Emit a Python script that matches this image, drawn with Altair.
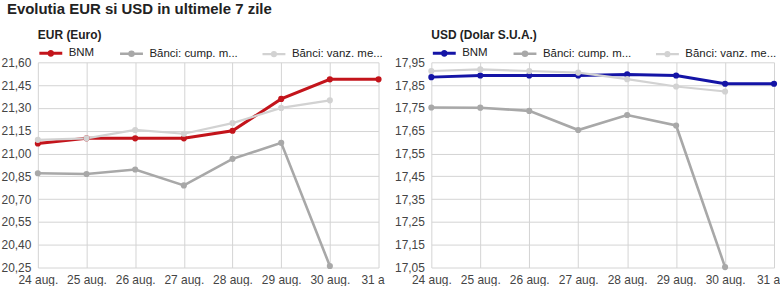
import altair as alt
import pandas as pd

dates = ["24 aug.", "25 aug.", "26 aug.", "27 aug.", "28 aug.", "29 aug.", "30 aug.", "31 aug."]
series_names = ["BNM", "Bănci: cump. m...", "Bănci: vanz. me..."]

eur_bnm = [21.066, 21.10, 21.10, 21.10, 21.15, 21.359, 21.488, 21.488]
eur_buy = [20.87, 20.865, 20.895, 20.79, 20.965, 21.07, 20.26, None]
eur_sell = [21.09, 21.10, 21.155, 21.13, 21.20, 21.30, 21.35, None]

usd_bnm = [17.885, 17.892, 17.892, 17.892, 17.897, 17.892, 17.856, 17.856]
usd_buy = [17.752, 17.751, 17.737, 17.653, 17.719, 17.673, 17.052, None]
usd_sell = [17.912, 17.919, 17.912, 17.905, 17.876, 17.844, 17.822, None]

eur_ticks = [20.25, 20.40, 20.55, 20.70, 20.85, 21.00, 21.15, 21.30, 21.45, 21.60]
usd_ticks = [17.05, 17.15, 17.25, 17.35, 17.45, 17.55, 17.65, 17.75, 17.85, 17.95]

eur_colors = ["#c3141b", "#a8a8a8", "#d2d2d2"]
usd_colors = ["#1414a6", "#a8a8a8", "#d2d2d2"]

FONT = "Liberation Sans"
LEGEND_SYMBOL = "M-1,0L1,0M0.17,0A0.17,0.17,0,1,1,-0.17,0A0.17,0.17,0,1,1,0.17,0Z"


def make_frame(bnm, buy, sell):
    rows = []
    for name, vals in zip(series_names, [bnm, buy, sell]):
        for d, v in zip(dates, vals):
            if v is not None:
                rows.append({"date": d, "series": name, "value": v})
    return pd.DataFrame(rows)


def panel(df, title, colors, domain, ticks, width):
    x = alt.X(
        "date:O",
        sort=dates,
        scale=alt.Scale(type="point", padding=0),
        axis=alt.Axis(
            title=None, grid=True, gridColor="#d4d4d4", domain=False, ticks=False,
            labelAngle=0, labelFontSize=12, labelFont=FONT, labelColor="#444444",
            labelPadding=7,
            labelExpr="datum.value == '31 aug.' ? '31 a' : datum.label",
            labelOffset={"condition": {"test": "datum.value == '31 aug.'", "value": -6}, "value": 0},
        ),
    )
    y = alt.Y(
        "value:Q",
        scale=alt.Scale(domain=domain, nice=False, zero=False),
        axis=alt.Axis(
            title=None, values=ticks, grid=True, gridColor="#d4d4d4", domain=False,
            ticks=False, labelFontSize=12, labelFont=FONT, labelColor="#444444",
            labelPadding=7, minExtent=37, maxExtent=37,
            labelExpr="replace(format(datum.value, '.2f'), '.', ',')",
        ),
    )
    color = alt.Color(
        "series:N",
        sort=series_names,
        scale=alt.Scale(domain=series_names, range=colors),
        legend=alt.Legend(
            title=None, orient="top", labelFontSize=11.5, labelFont=FONT,
            labelColor="#222222", symbolType=LEGEND_SYMBOL, symbolSize=529,
            symbolStrokeWidth=3, columnPadding=20, labelOffset=5, offset=1,
            padding=0, labelLimit=300,
        ),
    )
    sw = alt.StrokeWidth(
        "series:N", scale=alt.Scale(domain=series_names, range=[3, 2.2, 2.2]), legend=None
    )
    base = alt.Chart(df).encode(x=x, y=y, color=color)
    lines = base.mark_line().encode(strokeWidth=sw)
    points = base.mark_point(filled=True, size=38, opacity=1)
    return alt.layer(lines, points).properties(
        width=width,
        height=206,
        title=alt.TitleParams(
            title, anchor="start", frame="group", fontSize=12, fontWeight="bold",
            font=FONT, color="#222222", offset=-2,
        ),
    )


left = panel(make_frame(eur_bnm, eur_buy, eur_sell), "EUR (Euro)", eur_colors,
             [20.25, 21.60], eur_ticks, 342)
right = panel(make_frame(usd_bnm, usd_buy, usd_sell), "USD (Dolar S.U.A.)", usd_colors,
              [17.05, 17.95], usd_ticks, 344)

chart = (
    alt.hconcat(left, right, spacing=53, bounds="flush")
    .resolve_scale(color="independent", strokeWidth="independent")
    .resolve_legend(color="independent")
    .properties(
        title=alt.TitleParams(
            "Evolutia EUR si USD in ultimele 7 zile", anchor="start", fontSize=15,
            fontWeight="bold", font=FONT, color="#222222", offset=12, dx=6,
        ),
        padding={"left": 0, "top": 2, "right": 0, "bottom": 0},
        background="white",
    )
    .configure_view(stroke=None)
)

chart.save("out.html", embed_options={"renderer": "svg", "actions": False})
